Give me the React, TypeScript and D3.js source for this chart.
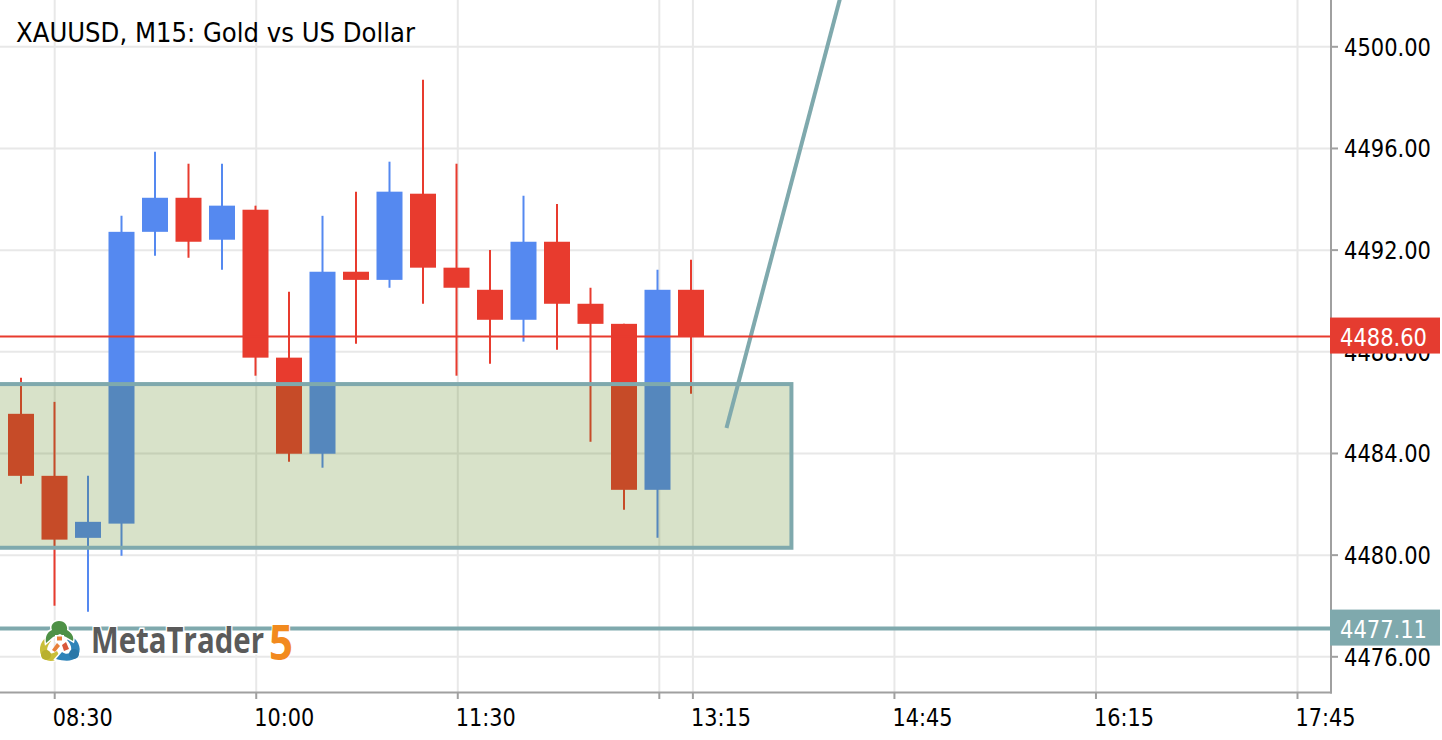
import * as d3 from "d3";
import React from "react";

// chart size
const width = 1442;
const height = 740;
const plotRight = 1331;
const plotBottom = 692.5;

const yTicks = [4500, 4496, 4492, 4488, 4484, 4480, 4476];
const xTicks = ["08:30", "10:00", "11:30", "13:00", "13:15", "14:45", "16:15", "17:45"];
const hiddenXLabels = ["13:00"];

// 15 minute candles
const times = ["08:15", "08:30", "08:45", "09:00", "09:15", "09:30", "09:45", "10:00", "10:15", "10:30", "10:45", "11:00", "11:15", "11:30", "11:45", "12:00", "12:15", "12:30", "12:45", "13:00", "13:15"];
const opens = [4485.56, 4483.12, 4480.68, 4481.24, 4492.72, 4494.06, 4492.41, 4493.59, 4487.77, 4483.99, 4491.15, 4490.83, 4494.22, 4491.31, 4490.44, 4489.26, 4492.33, 4489.89, 4489.10, 4482.57, 4490.44];
const highs = [4486.98, 4486.03, 4483.12, 4493.35, 4495.87, 4495.40, 4495.40, 4493.75, 4490.36, 4493.35, 4494.30, 4495.48, 4498.70, 4495.40, 4492.01, 4494.14, 4493.82, 4490.52, 4489.10, 4491.23, 4491.62];
const lows = [4482.81, 4478.01, 4477.77, 4479.98, 4491.78, 4491.70, 4491.23, 4487.06, 4483.67, 4483.44, 4488.32, 4490.52, 4489.89, 4487.06, 4487.53, 4488.40, 4488.08, 4484.46, 4481.79, 4480.68, 4486.35];
const closes = [4483.12, 4480.61, 4481.31, 4492.72, 4494.06, 4492.33, 4493.75, 4487.77, 4483.99, 4491.15, 4490.83, 4494.30, 4491.31, 4490.52, 4489.26, 4492.33, 4489.89, 4489.10, 4482.57, 4490.44, 4488.60];

const lastPrice = 4488.6;
const supportPrice = 4477.11;
const zoneTop = 4486.73;
const zoneBottom = 4480.29;
const zoneEnd = "13:59";
const trendTimes = ["13:30", "14:30"];
const trendPrices = [4485, 4505];

const red = "#e83b2e";
const blue = "#5589f0";
const teal = "#7fa9ad";
const grid = "#e8e8e8";
const axisGray = "#a0a0a0";
const font = "'DejaVu Sans Condensed', 'DejaVu Sans', sans-serif";

const minutes = (t: string) => {
  const [h, m] = t.split(":").map(Number);
  return h * 60 + m;
};

const x = d3.scaleLinear().domain([minutes("08:30"), minutes("17:45")]).range([54.7, 1297.5]);
// candles sit a little off the tick marks in the source
const candleX = d3.scaleLinear().domain([minutes("08:15"), minutes("13:15")]).range([21, 691]);
const y = d3.scaleLinear().domain([4500, 4476]).range([46.8, 656.8]);

const candles = times.map((t, i) => ({
  t,
  open: opens[i],
  high: highs[i],
  low: lows[i],
  close: closes[i],
}));

const Logo = () => (
  <g>
    {/* icon */}
    <g stroke="#fff" strokeWidth={3} paintOrder="stroke">
      <path d="M47,637 C39,642 38,652 43,658 C49,663 56,661 60,657 L57,651 C53,654 50,654 48,652 C46,649 48,645 51,641 Z" fill="#c9bf3a" />
      <path d="M71,636 C80,641 82,651 77,657 C72,662 64,661 56,659 L62,652 C66,655 70,654 71,651 C72,647 70,643 67,640 Z" fill="#2f83b8" />
      <path d="M59,621 C65,621 68,626 67,630 C72,633 74,637 73,641 L66,637 L60,634 L53,637 L46,643 C45,637 47,632 52,630 C50,625 54,621 59,621 Z" fill="#4e9146" />
    </g>
    <circle cx={46} cy={655} r={5} fill="#b9b02e" />
    <circle cx={74} cy={654} r={5} fill="#2a77a8" />
    <rect x={55} y={635} width={9} height={7} fill="#fff" />
    <rect x={57} y={636.5} width={5} height={4} fill="#e8803a" />
    <path d="M52,650 L57,643 L60,646 L55,652 Z" fill="#e8803a" />
    <path d="M62,645 L66,642 L69,649 L64,651 Z" fill="#d9573a" />
    {/* wordmark */}
    <text x={91} y={653} fontFamily="'Open Sans', sans-serif" fontWeight={700} fontSize={35} fill="#5a5a5a" textLength={173} lengthAdjust="spacingAndGlyphs" stroke="#fff" strokeWidth={3} paintOrder="stroke">MetaTrader</text>
    <text x={269} y={660} fontFamily="'Open Sans', sans-serif" fontWeight={700} fontSize={49} fill="#f28a1e" textLength={24} lengthAdjust="spacingAndGlyphs" stroke="#fff" strokeWidth={2} paintOrder="stroke">5</text>
  </g>
);

export default function App() {
  const bodyW = 26;
  const trendLine = d3
    .line<number>()
    .x((_, i) => x(minutes(trendTimes[i])))
    .y((d) => y(d));

  return (
    <svg width={width} height={height} style={{ position: "absolute", left: 0, top: 0, background: "#fff" }}>
      {/* grid */}
      {yTicks.map((t) => (
        <g key={t}>
          <line x1={0} x2={plotRight} y1={y(t)} y2={y(t)} stroke={grid} strokeWidth={2} />
          <line x1={plotRight} x2={1338} y1={y(t)} y2={y(t)} stroke={axisGray} strokeWidth={2} />
        </g>
      ))}
      {xTicks.map((t) => (
        <g key={t}>
          <line x1={x(minutes(t))} x2={x(minutes(t))} y1={0} y2={plotBottom} stroke={grid} strokeWidth={2} />
          <line x1={x(minutes(t))} x2={x(minutes(t))} y1={plotBottom} y2={699} stroke={axisGray} strokeWidth={2} />
        </g>
      ))}

      {/* candles */}
      {candles.map((c) => {
        const cx = candleX(minutes(c.t));
        const color = c.close >= c.open ? blue : red;
        const top = y(Math.max(c.open, c.close));
        const bottom = y(Math.min(c.open, c.close));
        return (
          <g key={c.t}>
            <line x1={cx} x2={cx} y1={y(c.high)} y2={y(c.low)} stroke={color} strokeWidth={2} />
            <rect x={cx - bodyW / 2} y={top} width={bodyW} height={bottom - top} fill={color} />
          </g>
        );
      })}

      {/* zone */}
      <rect
        x={-10}
        y={y(zoneTop)}
        width={x(minutes(zoneEnd)) + 10}
        height={y(zoneBottom) - y(zoneTop)}
        fill="#558114"
        fillOpacity={0.23}
        stroke={teal}
        strokeWidth={4}
      />

      <path d={trendLine(trendPrices) || undefined} fill="none" stroke={teal} strokeWidth={4} />
      <line x1={0} x2={plotRight} y1={y(supportPrice)} y2={y(supportPrice)} stroke={teal} strokeWidth={4} />
      <line x1={0} x2={plotRight} y1={y(lastPrice)} y2={y(lastPrice)} stroke={red} strokeWidth={2} />

      {/* frame */}
      <line x1={plotRight} x2={plotRight} y1={0} y2={plotBottom + 1} stroke={axisGray} strokeWidth={2} />
      <line x1={0} x2={plotRight + 1} y1={plotBottom} y2={plotBottom} stroke={axisGray} strokeWidth={2} />

      {/* axis labels */}
      <g fontFamily={font} fontSize={25} fill="#000">
        {yTicks.map((t) => (
          <text key={t} x={1344} y={y(t)} dy="0.36em" textLength={87} lengthAdjust="spacingAndGlyphs">{d3.format(".2f")(t)}</text>
        ))}
        {xTicks.filter((t) => !hiddenXLabels.includes(t)).map((t) => (
          <text key={t} x={x(minutes(t)) - 2} y={726} textLength={60} lengthAdjust="spacingAndGlyphs">{t}</text>
        ))}
      </g>

      {/* price tags */}
      <g fontFamily={font} fontSize={25} fill="#fff">
        <rect x={plotRight - 1} y={y(lastPrice) - 19} width={110} height={36} fill="#e53c30" />
        <text x={1340} y={y(lastPrice)} dy="0.36em" textLength={87} lengthAdjust="spacingAndGlyphs">{d3.format(".2f")(lastPrice)}</text>
        <rect x={plotRight - 1} y={y(supportPrice) - 19} width={110} height={36} fill={teal} />
        <text x={1340} y={y(supportPrice)} dy="0.36em" textLength={87} lengthAdjust="spacingAndGlyphs">{d3.format(".2f")(supportPrice)}</text>
      </g>

      <Logo />

      <text x={16} y={41.5} fontFamily={font} fontSize={27} fill="#000" textLength={399} lengthAdjust="spacingAndGlyphs">XAUUSD, M15: Gold vs US Dollar</text>
    </svg>
  );
}
